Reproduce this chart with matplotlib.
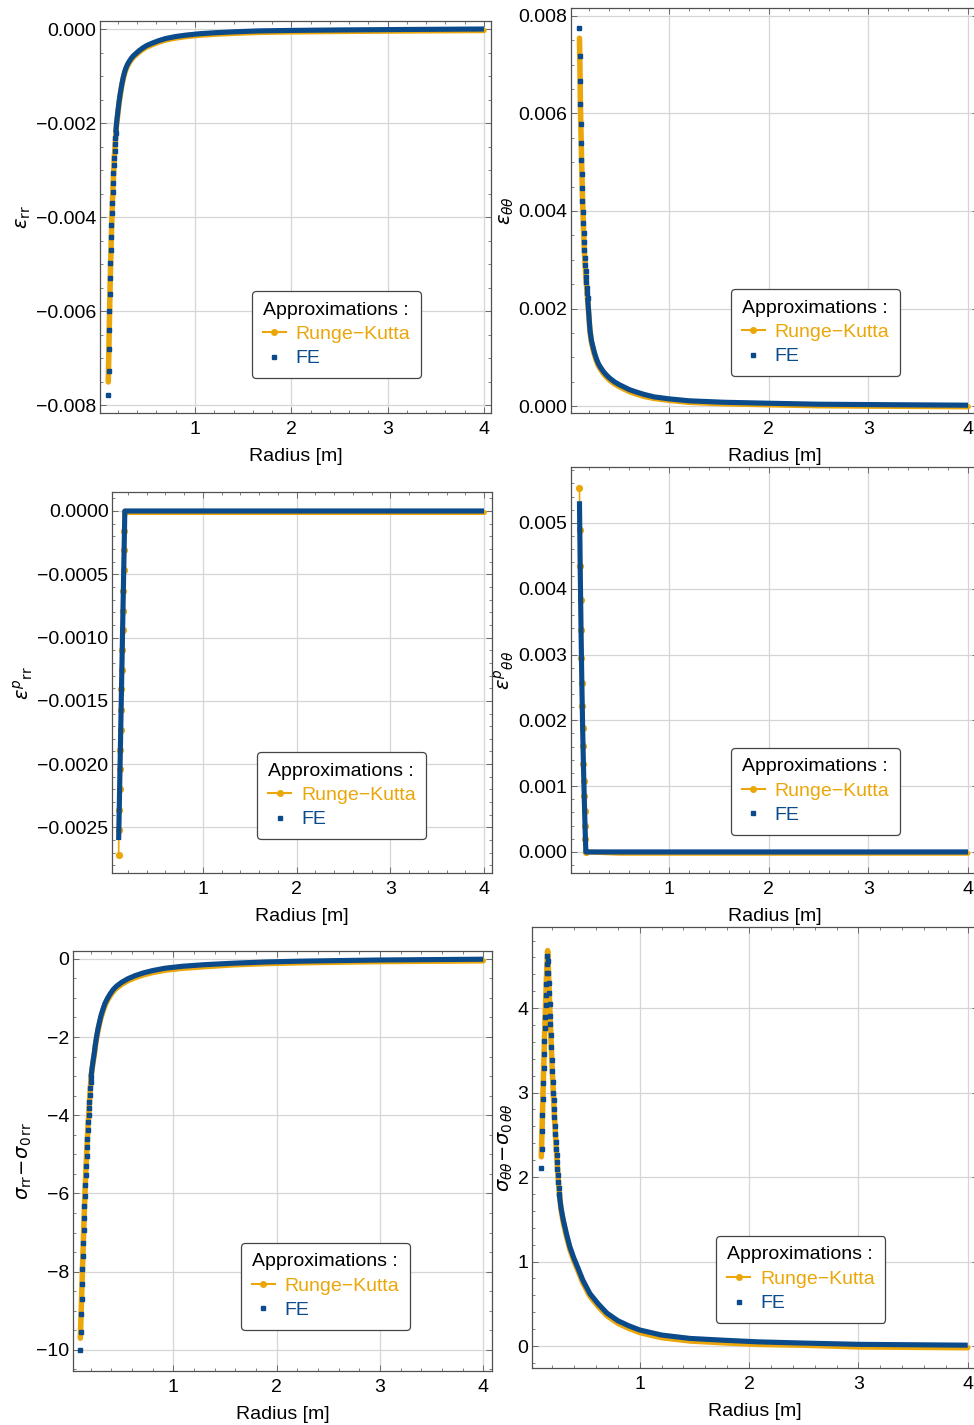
import matplotlib
matplotlib.use('Agg')
import matplotlib.pyplot as plt
from matplotlib.lines import Line2D
from matplotlib.ticker import MultipleLocator, FuncFormatter

plt.rcParams['font.family'] = ['Liberation Sans', 'DejaVu Sans']
plt.rcParams['mathtext.fontset'] = 'dejavusans'

orange = '#EBA60A'
blue = '#0B4A8B'

# eps_rr
fe_r_err = [0.100, 0.103, 0.106, 0.109, 0.112, 0.116, 0.119, 0.123, 0.126, 0.130, 0.133, 0.137,
            0.141, 0.145, 0.149, 0.153, 0.157, 0.161, 0.165, 0.170, 0.174, 0.178,
            0.186, 0.195, 0.205, 0.214, 0.225, 0.24, 0.255, 0.27, 0.285, 0.30, 0.32, 0.34, 0.36,
            0.387, 0.42, 0.46, 0.50, 0.557, 0.62, 0.70, 0.80, 0.906, 1.05, 1.2, 1.4, 1.67, 2.0,
            2.5, 3.2, 4.0]
fe_v_err = [-0.00777, -0.00726, -0.00681, -0.00639, -0.00600, -0.00563, -0.00529, -0.00498,
            -0.00469, -0.00442, -0.00416, -0.00391, -0.00369, -0.00347, -0.00327, -0.00307,
            -0.00290, -0.00274, -0.00259, -0.00245, -0.00232, -0.00220,
            -0.00200, -0.00183, -0.00166, -0.00151, -0.00136, -0.00118, -0.00103, -0.00091,
            -0.00082, -0.00075, -0.00068, -0.00062, -0.00057, -0.00052, -0.00046, -0.00040,
            -0.00035, -0.00030, -0.00025, -0.00020, -0.00016, -0.00013, -0.00010, -0.00008,
            -0.00006, -0.00004, -0.00003, -0.00002, -0.00001, 0.0]
rk_r_err = [0.100, 0.105, 0.110, 0.120, 0.130, 0.140, 0.150, 0.165, 0.185, 0.195, 0.205, 0.214,
            0.225, 0.24, 0.255, 0.27, 0.285, 0.30, 0.32, 0.34, 0.36, 0.387, 0.42, 0.46, 0.50,
            0.557, 0.62, 0.70, 0.80, 0.906, 1.05, 1.2, 1.4, 1.67, 2.0, 2.5, 3.2, 4.0]
rk_v_err = [-0.00750, -0.00695, -0.00635, -0.00535, -0.00455, -0.00385, -0.00330, -0.00265,
            -0.00205, -0.00188, -0.00170, -0.00155, -0.00140, -0.00121, -0.00106, -0.00094,
            -0.00085, -0.00078, -0.00071, -0.00065, -0.00060, -0.00055, -0.00049, -0.00043,
            -0.00038, -0.00033, -0.00028, -0.00023, -0.00019, -0.00016, -0.00013, -0.00011,
            -0.00009, -0.00007, -0.00006, -0.00005, -0.00004, -0.00003]

# eps_thetatheta
fe_r_ett = [0.100, 0.103, 0.106, 0.109, 0.112, 0.116, 0.119, 0.123, 0.126, 0.130, 0.133, 0.137,
            0.141, 0.145, 0.149, 0.153, 0.157, 0.161, 0.165, 0.170, 0.174, 0.178, 0.182,
            0.19, 0.198, 0.206, 0.22, 0.235, 0.25, 0.27, 0.29, 0.307, 0.34, 0.37, 0.40, 0.45,
            0.50, 0.54, 0.60, 0.67, 0.75, 0.85, 1.0, 1.2, 1.55, 2.0, 2.5, 3.2, 4.0]
fe_v_ett = [0.00775, 0.00718, 0.00666, 0.00620, 0.00578, 0.00540, 0.00505, 0.00475, 0.00447,
            0.00421, 0.00397, 0.00375, 0.00355, 0.00336, 0.00320, 0.00304, 0.00289, 0.00277,
            0.00265, 0.00254, 0.00243, 0.00232, 0.00222,
            0.00200, 0.00176, 0.00155, 0.00135, 0.00122, 0.00110, 0.00097, 0.00087, 0.00081,
            0.00071, 0.00064, 0.00058, 0.00050, 0.00044, 0.00040, 0.00034, 0.00029, 0.00024,
            0.00019, 0.00015, 0.00011, 0.00008, 0.00006, 0.00004, 0.00003, 0.00002]
rk_r_ett = [0.100, 0.105, 0.110, 0.120, 0.130, 0.140, 0.150, 0.165, 0.185, 0.195, 0.206, 0.22,
            0.235, 0.25, 0.27, 0.29, 0.307, 0.34, 0.37, 0.40, 0.45, 0.50, 0.54, 0.60, 0.67, 0.75,
            0.85, 1.0, 1.2, 1.55, 2.0, 2.5, 3.2, 4.0]
rk_v_ett = [0.00754, 0.00690, 0.00610, 0.00515, 0.00430, 0.00365, 0.00315, 0.00262, 0.00210,
            0.00183, 0.00152, 0.00131, 0.00118, 0.00106, 0.00093, 0.00083, 0.00077, 0.00067,
            0.00060, 0.00054, 0.00046, 0.00040, 0.00036, 0.00030, 0.00025, 0.00020, 0.00016,
            0.00012, 0.00008, 0.00005, 0.00003, 0.00001, 0.0, -0.00001]

# plastic eps_rr
fe_r_eprr = [0.100, 0.166, 0.5, 1.0, 2.0, 3.0, 4.0]
fe_v_eprr = [-0.00260, 0.0, 0.0, 0.0, 0.0, 0.0, 0.0]
rk_r_eprr = [0.100, 0.102, 0.106, 0.110, 0.114, 0.118, 0.122, 0.126, 0.130, 0.134, 0.138, 0.142,
             0.146, 0.150, 0.154, 0.158, 0.162, 0.166, 0.5, 1.0, 2.0, 3.0, 4.0]
rk_v_eprr = [-0.00272, -0.00252, -0.00236, -0.00220, -0.00204, -0.00189, -0.00173, -0.00157,
             -0.00141, -0.00126, -0.00110, -0.00094, -0.00079, -0.00063, -0.00047, -0.00031,
             -0.00016, -0.00001, -0.00001, -0.00001, -0.00001, -0.00001, -0.00001]

# plastic eps_thetatheta
fe_r_eptt = [0.100, 0.108, 0.116, 0.124, 0.132, 0.140, 0.148, 0.156, 0.164, 1.0, 2.0, 3.0, 4.0]
fe_v_eptt = [0.00533, 0.00425, 0.00335, 0.00255, 0.00187, 0.00131, 0.00083, 0.00038, 0.0,
             0.0, 0.0, 0.0, 0.0]
rk_r_eptt = [0.100, 0.104, 0.108, 0.112, 0.116, 0.120, 0.124, 0.128, 0.132, 0.136, 0.140, 0.144,
             0.148, 0.152, 0.156, 0.160, 0.164, 0.5, 1.0, 2.0, 3.0, 4.0]
rk_v_eptt = [0.00553, 0.00490, 0.00434, 0.00383, 0.00338, 0.00295, 0.00257, 0.00222, 0.00189,
             0.00161, 0.00133, 0.00108, 0.00085, 0.00062, 0.00039, 0.00019, 0.0,
             -0.00002, -0.00002, -0.00002, -0.00002, -0.00002]

# sigma_rr - sigma0_rr
fe_r_srr = [0.100, 0.104, 0.108, 0.112, 0.116, 0.120, 0.124, 0.128, 0.132, 0.136, 0.140, 0.144,
            0.148, 0.152, 0.156, 0.160, 0.164, 0.168, 0.172, 0.176, 0.180, 0.184, 0.188, 0.192,
            0.196, 0.200, 0.204,
            0.215, 0.225, 0.235, 0.246, 0.258, 0.27, 0.285, 0.30, 0.32, 0.34, 0.365, 0.39, 0.42,
            0.45, 0.50, 0.56, 0.63, 0.71, 0.80, 0.92, 1.09, 1.3, 1.6, 1.9, 2.23, 2.6, 3.0, 3.5,
            4.0]
fe_v_srr = [-10.0, -9.55, -9.09, -8.70, -8.31, -7.94, -7.59, -7.26, -6.93, -6.62, -6.32, -6.06,
            -5.78, -5.52, -5.29, -5.04, -4.81, -4.60, -4.39, -4.17, -3.99, -3.82, -3.65, -3.48,
            -3.31, -3.16, -3.01,
            -2.77, -2.58, -2.41, -2.18, -1.98, -1.80, -1.62, -1.45, -1.28, -1.13, -1.00, -0.89,
            -0.78, -0.70, -0.60, -0.51, -0.43, -0.36, -0.30, -0.24, -0.19, -0.15, -0.11, -0.08,
            -0.06, -0.045, -0.03, -0.02, -0.01]
rk_r_srr = [0.100, 0.110, 0.120, 0.130, 0.140, 0.150, 0.160, 0.175, 0.190, 0.205, 0.215, 0.225,
            0.235, 0.246, 0.258, 0.27, 0.285, 0.30, 0.32, 0.34, 0.365, 0.39, 0.42, 0.45, 0.50,
            0.56, 0.63, 0.71, 0.80, 0.92, 1.09, 1.3, 1.6, 1.9, 2.23, 2.6, 3.0, 3.5, 4.0]
rk_v_srr = [-9.70, -8.85, -8.00, -7.15, -6.35, -5.65, -5.05, -4.25, -3.60, -3.00, -2.80, -2.62,
            -2.45, -2.22, -2.02, -1.85, -1.67, -1.50, -1.33, -1.18, -1.05, -0.94, -0.83, -0.75,
            -0.65, -0.56, -0.48, -0.41, -0.35, -0.29, -0.24, -0.20, -0.15, -0.12, -0.10, -0.085,
            -0.07, -0.06, -0.05]

# sigma_thetatheta - sigma0_thetatheta
fe_r_stt = [0.100, 0.1035, 0.107, 0.1105, 0.114, 0.1175, 0.121, 0.1245, 0.128, 0.1315, 0.135,
            0.1385, 0.142, 0.1455, 0.149, 0.1525, 0.156,
            0.160, 0.164, 0.168, 0.172, 0.176, 0.180, 0.184, 0.188, 0.192, 0.196, 0.200, 0.204,
            0.208, 0.212, 0.216, 0.220, 0.224, 0.228, 0.232, 0.236, 0.240, 0.244, 0.248, 0.252,
            0.256, 0.260, 0.264,
            0.28, 0.30, 0.33, 0.36, 0.395, 0.43, 0.48, 0.545, 0.62, 0.70, 0.80, 0.90, 1.0, 1.2,
            1.46, 1.75, 2.07, 2.5, 3.0, 3.5, 4.0]
fe_v_stt = [2.11, 2.33, 2.54, 2.74, 2.93, 3.11, 3.29, 3.46, 3.61, 3.76, 3.90, 4.04, 4.16, 4.28,
            4.41, 4.52, 4.62,
            4.56, 4.42, 4.30, 4.18, 4.05, 3.91, 3.81, 3.68, 3.54, 3.39, 3.25, 3.12, 3.00, 2.91,
            2.81, 2.71, 2.61, 2.51, 2.42, 2.33, 2.26, 2.18, 2.10, 2.02, 1.94, 1.87, 1.80,
            1.64, 1.50, 1.33, 1.18, 1.05, 0.94, 0.78, 0.62, 0.50, 0.39, 0.30, 0.24, 0.19, 0.13,
            0.09, 0.07, 0.05, 0.035, 0.02, 0.015, 0.01]
rk_r_stt = [0.100, 0.110, 0.120, 0.130, 0.140, 0.150, 0.158, 0.165, 0.180, 0.200, 0.220, 0.240,
            0.260, 0.28, 0.30, 0.33, 0.36, 0.395, 0.43, 0.48, 0.545, 0.62, 0.70, 0.80, 0.90, 1.0,
            1.2, 1.46, 1.75, 2.07, 2.5, 3.0, 3.5, 4.0]
rk_v_stt = [2.24, 2.70, 3.21, 3.68, 4.08, 4.45, 4.68, 4.45, 3.92, 3.27, 2.72, 2.27, 1.88, 1.62,
            1.47, 1.30, 1.15, 1.02, 0.91, 0.75, 0.59, 0.47, 0.36, 0.27, 0.21, 0.16, 0.10, 0.06,
            0.04, 0.02, 0.01, -0.01, -0.015, -0.02]


W, H = 974, 1425

# box = pixel frame (left, top, right, bottom)
panels = [
    dict(box=(100, 21, 491, 413), xlim=(0.014, 4.073), ylim=(-0.00816, 0.00017),
         major=0.002, minor=0.0005, dec=3, ylabel=r'$\varepsilon_{\mathrm{rr}}$',
         fe=(fe_r_err, fe_v_err), rk=(rk_r_err, rk_v_err), band=21, dots=0, leg=(0.389, 0.089)),
    dict(box=(571, 8, 978, 413), xlim=(0.015, 4.10), ylim=(-0.00014, 0.00816),
         major=0.002, minor=0.0005, dec=3, ylabel=r'$\varepsilon_{\theta\theta}$',
         fe=(fe_r_ett, fe_v_ett), rk=(rk_r_ett, rk_v_ett), band=22, dots=0, leg=(0.393, 0.091)),
    dict(box=(112, 492, 492, 873), xlim=(0.029, 4.085), ylim=(-0.00286, 0.00015),
         major=0.0005, minor=0.0001, dec=4, ylabel=r'$\varepsilon^{p}{}_{\mathrm{rr}}$',
         fe=(fe_r_eprr, fe_v_eprr), rk=(rk_r_eprr, rk_v_eprr), band=0, dots=18, leg=(0.382, 0.089)),
    dict(box=(571, 467, 978, 873), xlim=(0.015, 4.10), ylim=(-0.00032, 0.00585),
         major=0.001, minor=0.0002, dec=3, ylabel=r'$\varepsilon^{p}{}_{\theta\theta}$',
         fe=(fe_r_eptt, fe_v_eptt), rk=(rk_r_eptt, rk_v_eptt), band=0, dots=17, leg=(0.393, 0.094)),
    dict(box=(73, 951, 492, 1371), xlim=(0.029, 4.085), ylim=(-10.54, 0.2),
         major=2, minor=0.5, dec=0, ylabel=r'$\sigma_{\mathrm{rr}}\!-\!\sigma_{0\,\mathrm{rr}}$',
         fe=(fe_r_srr, fe_v_srr), rk=(rk_r_srr, rk_v_srr), band=26, dots=0, leg=(0.401, 0.098)),
    dict(box=(532, 927, 978, 1368), xlim=(0.015, 4.094), ylim=(-0.26, 4.96),
         major=1, minor=0.2, dec=0, ylabel=r'$\sigma_{\theta\theta}\!-\!\sigma_{0\,\theta\theta}$',
         fe=(fe_r_stt, fe_v_stt), rk=(rk_r_stt, rk_v_stt), band=43, dots=0, leg=(0.413, 0.102)),
]


def make_fmt(dec):
    def f(v, pos):
        s = '%.*f' % (dec, v)
        if float(s) == 0:
            s = s.replace('-', '')
        return s.replace('-', '\u2212')
    return f


fig = plt.figure(figsize=(W / 100, H / 100), dpi=100)

for p in panels:
    l, t, r, b = p['box']
    ax = fig.add_axes([l / W, 1 - b / H, (r - l) / W, (b - t) / H])

    rk_r, rk_v = p['rk']
    fe_r, fe_v = p['fe']
    n = p['dots']
    if n:
        # plastic panels: thin RK line with dots on the steep part
        ax.plot(rk_r[:n], rk_v[:n], color=orange, lw=1.2, marker='o', ms=4.2, zorder=2)
        ax.plot(rk_r[n - 1:], rk_v[n - 1:], color=orange, lw=3.6, solid_capstyle='round', zorder=2)
    else:
        ax.plot(rk_r, rk_v, color=orange, lw=4.0, solid_capstyle='round',
                solid_joinstyle='round', zorder=2)

    k = p['band']
    if k:
        ax.plot(fe_r[:k + 1], fe_v[:k + 1], ls='none', marker='s', ms=2.6, color=blue, zorder=3)
    ax.plot(fe_r[k:], fe_v[k:], color=blue, lw=3.7, solid_capstyle='butt',
            solid_joinstyle='round', zorder=3)

    ax.set_xlim(p['xlim'])
    ax.set_ylim(p['ylim'])
    ax.xaxis.set_major_locator(MultipleLocator(1))
    ax.xaxis.set_minor_locator(MultipleLocator(0.2))
    ax.yaxis.set_major_locator(MultipleLocator(p['major']))
    ax.yaxis.set_minor_locator(MultipleLocator(p['minor']))
    ax.yaxis.set_major_formatter(FuncFormatter(make_fmt(p['dec'])))
    ax.xaxis.set_major_formatter(FuncFormatter(make_fmt(0)))

    ax.tick_params(which='both', direction='in', top=True, right=True, color='#6a6a6a',
                   labelsize=14)
    ax.tick_params(which='major', length=4, width=0.7)
    ax.tick_params(which='minor', length=2.2, width=0.6)
    ax.tick_params(axis='x', pad=6)
    ax.tick_params(axis='y', pad=2.5)
    ax.grid(which='major', color='#d6d6d6', lw=0.9, zorder=0)
    ax.set_axisbelow(True)
    for s in ax.spines.values():
        s.set_color('#505050')
        s.set_linewidth(0.9)

    ax.set_xlabel('Radius [m]', fontsize=14, labelpad=7)
    ax.set_ylabel(p['ylabel'], fontsize=14, labelpad=2)

    handles = [Line2D([], [], color=orange, marker='o', ms=4, lw=1.5),
               Line2D([], [], color=blue, marker='s', ms=3, ls='none')]
    leg = ax.legend(handles, ['Runge\u2212Kutta', 'FE'], title='Approximations :',
                    loc='lower left', bbox_to_anchor=p['leg'], borderaxespad=0,
                    fontsize=14, title_fontsize=14, labelcolor=[orange, blue],
                    alignment='left', fancybox=True, edgecolor='#444444', framealpha=1,
                    handlelength=1.2, handletextpad=0.5, labelspacing=0.35, borderpad=0.55)
    leg.get_frame().set_linewidth(0.9)

fig.savefig('out.png', dpi=100)
